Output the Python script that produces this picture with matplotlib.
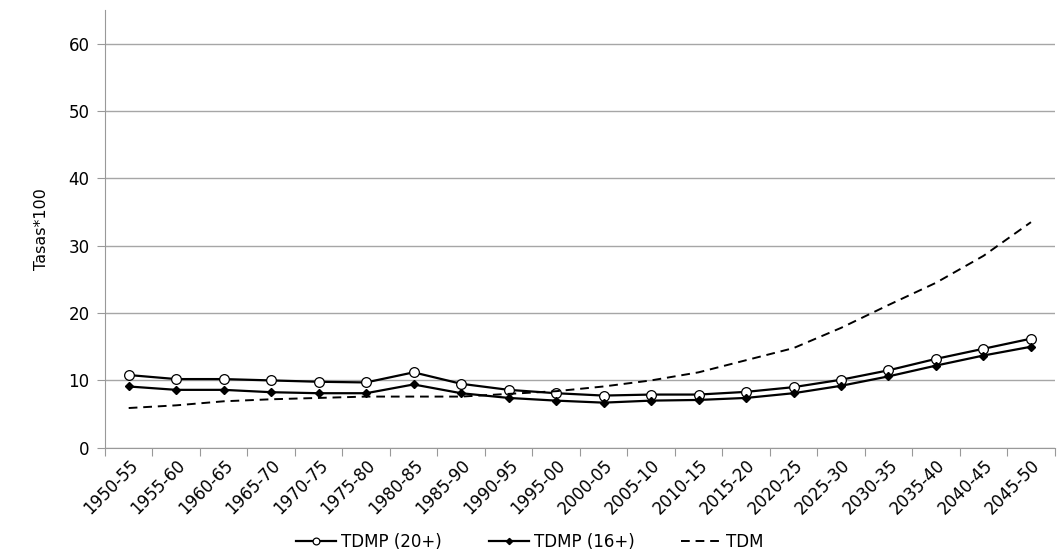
import numpy as np
import matplotlib
matplotlib.use("Agg")
import matplotlib.pyplot as plt

periods = ["1950-55", "1955-60", "1960-65", "1965-70", "1970-75", "1975-80",
           "1980-85", "1985-90", "1990-95", "1995-00", "2000-05", "2005-10",
           "2010-15", "2015-20", "2020-25", "2025-30", "2030-35", "2035-40",
           "2040-45", "2045-50"]

tdmp20 = [10.8, 10.2, 10.2, 10.0, 9.8, 9.7, 11.2, 9.5, 8.6, 8.1,
          7.75, 7.9, 7.9, 8.3, 9.0, 10.1, 11.5, 13.2, 14.7, 16.2]
tdmp16 = [9.1, 8.6, 8.6, 8.25, 8.1, 8.1, 9.4, 8.1, 7.4, 7.0,
          6.7, 7.0, 7.1, 7.4, 8.1, 9.2, 10.6, 12.2, 13.7, 15.0]
tdm = [5.9, 6.3, 6.9, 7.2, 7.4, 7.6, 7.6, 7.6, 8.0, 8.4,
       9.1, 10.0, 11.2, 13.0, 14.8, 17.8, 21.2, 24.5, 28.5, 33.5]

yticks = [0, 10, 20, 30, 40, 50, 60]


def main():
    fig = plt.figure(figsize=(10.6, 5.59), dpi=100)
    ax = fig.add_axes([0.099, 0.199, 0.896, 0.783])
    x = np.arange(len(periods))

    ax.plot(x, tdmp20, color="black", lw=1.6, marker="o", ms=7,
            mfc="white", mec="black", mew=0.9, label="TDMP (20+)", zorder=3)
    ax.plot(x, tdmp16, color="black", lw=1.6, marker="D", ms=4.5,
            mfc="black", mec="black", label="TDMP (16+)", zorder=3)
    ax.plot(x, tdm, color="black", lw=1.4, ls=(0, (4.5, 3)), label="TDM", zorder=3)

    ax.set_xlim(-0.5, len(periods) - 0.5)
    ax.set_ylim(0, 65)
    ax.set_yticks(yticks)
    ax.tick_params(axis="y", length=6, color="#999999", labelsize=12, pad=5)
    ax.yaxis.grid(True, color="#a6a6a6", lw=1)
    ax.set_axisbelow(True)

    # ticks between categories, labels at centers
    ax.set_xticks(np.arange(len(periods) + 1) - 0.5)
    ax.set_xticklabels([])
    ax.set_xticks(x, minor=True)
    ax.set_xticklabels(periods, minor=True, rotation=45, ha="right",
                       rotation_mode="anchor", fontsize=12)
    ax.tick_params(axis="x", which="major", length=6, color="#999999")
    ax.tick_params(axis="x", which="minor", length=0, pad=6)

    for s in ["top", "right"]:
        ax.spines[s].set_visible(False)
    for s in ["left", "bottom"]:
        ax.spines[s].set_color("#999999")

    ax.set_ylabel("Tasas*100", fontsize=11.5,
                  family=["Liberation Sans Narrow", "DejaVu Sans"], labelpad=14)

    fig.legend(loc="lower center", bbox_to_anchor=(0.5, -0.012), ncol=3,
               frameon=False, fontsize=12, handlelength=2.4, columnspacing=2.8,
               handletextpad=0.3, markerscale=0.7)

    fig.savefig("out.png", dpi=100)


if __name__ == "__main__":
    main()
